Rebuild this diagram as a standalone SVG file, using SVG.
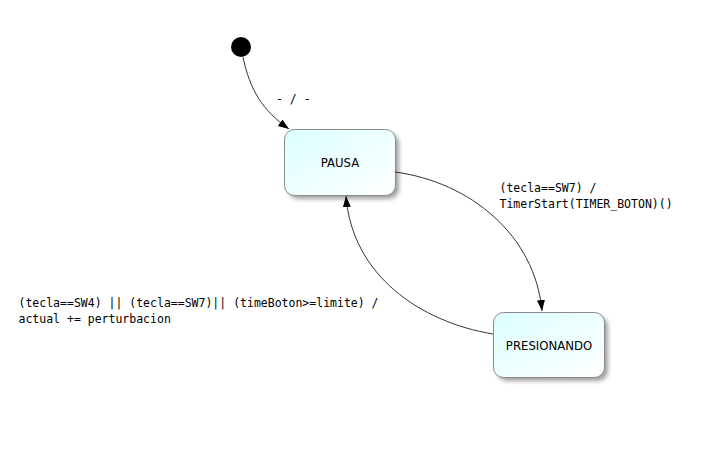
<svg xmlns="http://www.w3.org/2000/svg" width="714" height="457" viewBox="0 0 714 457">
<style>
.state rect.box{fill:url(#g);stroke:#8a8a8a;stroke-width:1}
.state rect.sh{fill:#555;opacity:0.55;filter:url(#blur)}
.state text{font-family:"DejaVu Sans",sans-serif;font-size:11.7px;fill:#000;text-anchor:middle}
.lbl{font-family:"DejaVu Sans Mono","Liberation Mono",monospace;font-size:11.5px;fill:#000}
.edge{fill:none;stroke:#333;stroke-width:1}
</style>
<defs>
<linearGradient id="g" x1="0" y1="0" x2="1" y2="1">
<stop offset="0" stop-color="#dcffff"/>
<stop offset="1" stop-color="#ffffff"/>
</linearGradient>
<filter id="blur" x="-20%" y="-20%" width="140%" height="140%"><feGaussianBlur stdDeviation="2"/></filter>
<marker id="arr" markerWidth="12" markerHeight="10" refX="11" refY="4" orient="auto" markerUnits="userSpaceOnUse">
<path d="M0,0 L11,4 L0,8 z" fill="#000"/>
</marker>
</defs>
<rect width="714" height="457" fill="#fff"/>
<g id="initial"><circle cx="241" cy="47" r="10" fill="#000"/></g>
<g id="pausa" class="state">
<rect class="sh" x="288" y="133" width="111" height="66" rx="10"/>
<rect class="box" x="284.5" y="129.5" width="111" height="66" rx="10"/>
<text x="340" y="166.5">PAUSA</text>
</g>
<g id="presionando" class="state">
<rect class="sh" x="497" y="316" width="111" height="65" rx="10"/>
<rect class="box" x="493.5" y="312.5" width="111" height="65" rx="10"/>
<text x="549" y="349.5">PRESIONANDO</text>
</g>
<g id="connectors">
<path class="edge" marker-end="url(#arr)" d="M243,57 C250,90 262,110 289,129"/>
<path class="edge" marker-end="url(#arr)" d="M395,172 C470,182 535,235 542,311"/>
<path class="edge" marker-end="url(#arr)" d="M493,334 C420,322 352,275 346,196"/>
<text class="lbl" x="276" y="103">- / -</text>
<text class="lbl" x="499.5" y="192">(tecla==SW7) /</text>
<text class="lbl" x="499.5" y="208">TimerStart(TIMER_BOTON)()</text>
<text class="lbl" x="18.5" y="307">(tecla==SW4) || (tecla==SW7)|| (timeBoton&gt;=limite) /</text>
<text class="lbl" x="18.5" y="323">actual += perturbacion</text>
</g>
</svg>
